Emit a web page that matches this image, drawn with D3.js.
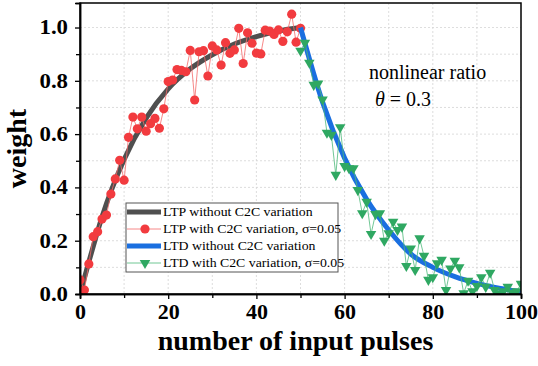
<!DOCTYPE html>
<html>
<head>
<meta charset="utf-8">
<script src="https://cdn.jsdelivr.net/npm/d3@7"></script>
<style>
    body { margin: 0; background: #fff; }
    svg { display: block; font-family: 'Liberation Serif', 'Times New Roman', serif; }
</style>
</head>
<body>
<svg id="chart" width="538" height="366"></svg>
<script>
(() => {
    'use strict';

    // LTP with C2C variation, pulses 0..50
    const ltpStart = 0;
    const ltpNoisy = [
        0.053, 0.015, 0.113, 0.215, 0.234, 0.281, 0.296, 0.375, 0.432, 0.502,
        0.427, 0.588, 0.664, 0.620, 0.664, 0.611, 0.639, 0.659, 0.622, 0.695,
        0.797, 0.803, 0.842, 0.839, 0.834, 0.914, 0.728, 0.909, 0.913, 0.818,
        0.931, 0.916, 0.859, 0.943, 0.903, 0.916, 0.997, 0.865, 0.980, 0.941,
        0.904, 0.901, 0.990, 0.987, 0.974, 0.991, 0.948, 0.984, 1.050, 0.945,
        0.997
    ];

    // LTD with C2C variation, pulses 50..100
    const ltdStart = 50;
    const ltdNoisy = [
        0.913, 0.943, 0.868, 0.785, 0.790, 0.730, 0.605, 0.597, 0.447, 0.626,
        0.480, 0.472, 0.472, 0.390, 0.303, 0.346, 0.225, 0.300, 0.303, 0.200,
        0.228, 0.271, 0.240, 0.253, 0.105, 0.171, 0.090, 0.209, 0.143, 0.053,
        0.063, 0.115, 0.128, 0.015, 0.096, 0.125, 0.100, 0.003, 0.050, 0.010,
        0.030, 0.063, 0.027, 0.080, 0.015, 0.003, 0.010, 0.027, 0.005, 0.010,
        0.038
    ];

    // ideal curves
    const ltpCurvePulses = [0, 2, 5, 10, 15, 20, 25, 30, 35, 40, 45, 50];
    const ltpCurveWeights = [0, 0.12, 0.29, 0.505, 0.66, 0.77, 0.845, 0.898, 0.938, 0.966, 0.987, 1.0];
    const ltdCurvePulses = [50, 55, 60, 65, 70, 75, 80, 85, 90, 95, 100];
    const ltdCurveWeights = [1.0, 0.72, 0.51, 0.355, 0.24, 0.15, 0.10, 0.065, 0.04, 0.022, 0.008];

    const xTicks = [0, 20, 40, 60, 80, 100];
    const xMinor = [10, 30, 50, 70, 90];
    const yTicks = [0, 0.2, 0.4, 0.6, 0.8, 1.0];
    const yMinor = [0.1, 0.3, 0.5, 0.7, 0.9];

    const legendLabels = [
        'LTP without C2C variation',
        'LTP with C2C variation, \u03c3=0.05',
        'LTD without C2C variation',
        'LTD with C2C variation, \u03c3=0.05'
    ];

    const colors = {
        ltp: '#4f4f4f',
        ltpDot: '#f23b3f',
        ltpLine: '#f56a6a',
        ltd: '#1a6fe0',
        ltdDot: '#2fa862',
        ltdLine: '#4cb97a'
    };

    const margin = { top: 3, right: 17, bottom: 72, left: 80 },
          width = 538 - margin.left - margin.right,
          height = 366 - margin.top - margin.bottom;

    // the original figure is a bit wider than tall, so widen some text
    const stretch = (sel, k) => {
        sel.each(function() {
            const len = this.getComputedTextLength();
            d3.select(this)
                .attr('textLength', len * k)
                .attr('lengthAdjust', 'spacingAndGlyphs');
        });
    };

    const svg = d3.select('#chart');
    const g = svg.append('g')
        .attr('transform', `translate(${margin.left},${margin.top})`);

    const x = d3.scaleLinear().domain([0, 100]).range([0, width]);
    const y = d3.scaleLinear().domain([0, 1.092]).range([height, 0]);

    // grid
    const grid = g.append('g').attr('class', 'grid');
    grid.selectAll('line.gx')
        .data(xTicks.concat(xMinor).filter(d => d > 0 && d < 100))
        .enter()
        .append('line')
        .attr('x1', d => x(d)).attr('x2', d => x(d))
        .attr('y1', 0).attr('y2', height)
        .attr('stroke', '#d4d4d4')
        .attr('stroke-dasharray', '2,2')
        .attr('stroke-width', 0.8);
    grid.selectAll('line.gy')
        .data(yTicks.concat(yMinor).filter(d => d > 0))
        .enter()
        .append('line')
        .attr('x1', 0).attr('x2', width)
        .attr('y1', d => y(d)).attr('y2', d => y(d))
        .attr('stroke', '#d4d4d4')
        .attr('stroke-dasharray', '2,2')
        .attr('stroke-width', 0.8);

    // clip to plot area
    svg.append('defs').append('clipPath').attr('id', 'plot-clip')
        .append('rect').attr('x', 0).attr('y', 0).attr('width', width).attr('height', height);

    const plot = g.append('g').attr('clip-path', 'url(#plot-clip)');

    const smooth = d3.line()
        .x(d => x(d[0]))
        .y(d => y(d[1]))
        .curve(d3.curveMonotoneX);
    const straight = d3.line()
        .x(d => x(d[0]))
        .y(d => y(d[1]));

    const ltpCurve = ltpCurvePulses.map((p, i) => [p, ltpCurveWeights[i]]);
    const ltdCurve = ltdCurvePulses.map((p, i) => [p, ltdCurveWeights[i]]);
    const ltpPts = ltpNoisy.map((w, i) => [ltpStart + i, w]);
    const ltdPts = ltdNoisy.map((w, i) => [ltdStart + i, w]);

    plot.append('path')
        .datum(ltpCurve)
        .attr('d', smooth)
        .attr('fill', 'none')
        .attr('stroke', colors.ltp)
        .attr('stroke-width', 5);

    plot.append('path')
        .datum(ltpPts)
        .attr('d', straight)
        .attr('fill', 'none')
        .attr('stroke', colors.ltpLine)
        .attr('stroke-width', 0.8);

    plot.selectAll('circle.ltp')
        .data(ltpPts)
        .enter()
        .append('circle')
        .attr('cx', d => x(d[0]))
        .attr('cy', d => y(d[1]))
        .attr('r', 4.6)
        .attr('fill', colors.ltpDot);

    plot.append('path')
        .datum(ltdCurve)
        .attr('d', smooth)
        .attr('fill', 'none')
        .attr('stroke', colors.ltd)
        .attr('stroke-width', 5);

    plot.append('path')
        .datum(ltdPts)
        .attr('d', straight)
        .attr('fill', 'none')
        .attr('stroke', colors.ltdLine)
        .attr('stroke-width', 0.8);

    const tri = d3.symbol().type(d3.symbolTriangle).size(48);
    plot.selectAll('path.ltd')
        .data(ltdPts)
        .enter()
        .append('path')
        .attr('d', tri)
        .attr('transform', d => `translate(${x(d[0])},${y(d[1])}) rotate(180)`)
        .attr('fill', colors.ltdDot);

    // axes
    const xAxis = d3.axisBottom(x).tickValues(xTicks).tickSize(5).tickPadding(6).tickFormat(d3.format('d'));
    const yAxis = d3.axisLeft(y).tickValues(yTicks).tickSize(5).tickPadding(7).tickFormat(d3.format('.1f'));

    const xg = g.append('g').attr('transform', `translate(0,${height})`).call(xAxis);
    const yg = g.append('g').call(yAxis);

    g.append('g').attr('transform', `translate(0,${height})`)
        .call(d3.axisBottom(x).tickValues(xMinor).tickSize(4).tickFormat(''));
    g.append('g')
        .call(d3.axisLeft(y).tickValues(yMinor).tickSize(4).tickFormat(''));

    [xg, yg].forEach(a => {
        a.selectAll('text')
            .attr('font-family', 'Liberation Serif, serif')
            .attr('font-weight', 'bold')
            .attr('font-size', 20)
            .attr('fill', '#000');
    });
    stretch(xg.selectAll('text'), 1.1);
    stretch(yg.selectAll('text'), 1.14);
    g.selectAll('.domain').attr('stroke', '#000').attr('stroke-width', 1.5);
    g.selectAll('.tick line').attr('stroke', '#000').attr('stroke-width', 1.3);

    // frame
    g.append('rect')
        .attr('x', 0).attr('y', 0)
        .attr('width', width).attr('height', height)
        .attr('fill', 'none')
        .attr('stroke', '#000')
        .attr('stroke-width', 1.5);

    // axis titles
    svg.append('text')
        .attr('transform', `translate(26,${margin.top + height / 2}) rotate(-90)`)
        .attr('text-anchor', 'middle')
        .attr('font-weight', 'bold')
        .attr('font-size', 28)
        .text('weight');

    svg.append('text')
        .attr('x', margin.left + width / 2 - 5)
        .attr('y', 350)
        .attr('text-anchor', 'middle')
        .attr('font-weight', 'bold')
        .attr('font-size', 28)
        .text('number of input pulses');

    // annotation
    svg.append('text')
        .attr('x', 369)
        .attr('y', 79)
        .attr('font-size', 20)
        .text('nonlinear ratio');

    const theta = svg.append('text')
        .attr('x', 375)
        .attr('y', 106)
        .attr('font-size', 20);
    theta.append('tspan').attr('font-style', 'italic').text('\u03b8');
    theta.append('tspan').text(' = 0.3');

    // legend
    const legend = svg.append('g').attr('transform', 'translate(126,203)');
    legend.append('rect')
        .attr('width', 212)
        .attr('height', 69)
        .attr('fill', '#fff')
        .attr('stroke', '#555')
        .attr('stroke-width', 1);

    const rows = legend.selectAll('g.row')
        .data(legendLabels)
        .enter()
        .append('g')
        .attr('transform', (d, i) => `translate(0,${9 + i * 17})`);

    rows.append('line')
        .attr('x1', 1).attr('x2', 35)
        .attr('y1', 0).attr('y2', 0)
        .attr('stroke', (d, i) => [colors.ltp, colors.ltpLine, colors.ltd, colors.ltdLine][i])
        .attr('stroke-width', (d, i) => (i % 2 === 0 ? 5 : 0.8));

    rows.filter((d, i) => i === 1)
        .append('circle')
        .attr('cx', 19).attr('cy', 0).attr('r', 4.6)
        .attr('fill', colors.ltpDot);

    rows.filter((d, i) => i === 3)
        .append('path')
        .attr('d', tri)
        .attr('transform', 'translate(19,0) rotate(180)')
        .attr('fill', colors.ltdDot);

    const legendText = rows.append('text')
        .attr('x', 37)
        .attr('y', 4)
        .attr('font-size', 11.5)
        .text(d => d);
    stretch(legendText, 1.2);
})();
</script>
</body>
</html>
